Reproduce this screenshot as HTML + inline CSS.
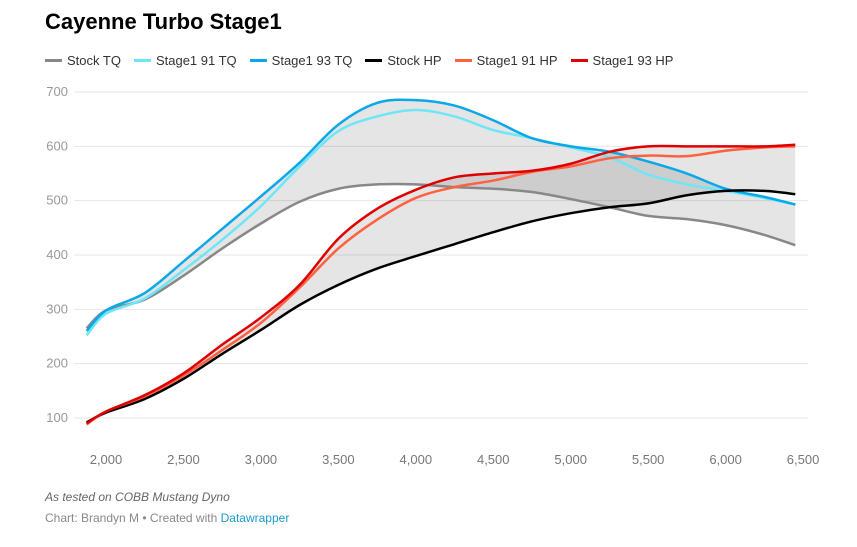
<!DOCTYPE html>
<html><head><meta charset="utf-8"><style>
body{margin:0;background:#fff;font-family:"Liberation Sans",sans-serif;}
#wrap{position:relative;width:857px;height:547px;overflow:hidden;}
h1{position:absolute;left:45px;top:9px;margin:0;font-size:22px;font-weight:bold;color:#000;}
#legend{position:absolute;left:45px;top:53px;font-size:13px;color:#333;display:flex;}
.le{display:flex;align-items:center;margin-right:13px;}
.sw{width:17px;height:3px;margin-right:5px;}
.note{position:absolute;left:45px;font-size:12px;color:#666;}
</style></head><body><div id="wrap">
<h1>Cayenne Turbo Stage1</h1>
<div id="legend">
<div class="le"><span class="sw" style="background:#888"></span>Stock TQ</div>
<div class="le"><span class="sw" style="background:#6ee6f8"></span>Stage1 91 TQ</div>
<div class="le"><span class="sw" style="background:#0aa8e8"></span>Stage1 93 TQ</div>
<div class="le"><span class="sw" style="background:#000"></span>Stock HP</div>
<div class="le"><span class="sw" style="background:#ff6040"></span>Stage1 91 HP</div>
<div class="le"><span class="sw" style="background:#e00000"></span>Stage1 93 HP</div>
</div>
<svg id="svg" width="857" height="547" style="position:absolute;left:0;top:0"></svg>
<div class="note" style="top:490px;font-style:italic">As tested on COBB Mustang Dyno</div>
<div class="note" style="top:511px;color:#888">Chart: Brandyn M • Created with <span style="color:#1d9bd1">Datawrapper</span></div>
</div>
<script>
const rpm=[1875,2000,2250,2500,2750,3000,3250,3500,3750,4000,4250,4500,4750,5000,5250,5500,5750,6000,6250,6450];
const stockTQ=[265,298,318,362,412,458,498,522,530,530,525,522,516,503,488,472,466,455,437,418];
const s91TQ=[252,292,320,372,428,490,563,628,655,667,655,630,615,598,580,548,530,518,505,493];
const s93TQ=[260,298,330,388,448,508,570,640,680,685,675,648,615,600,590,572,550,522,507,493];
const stockHP=[92,110,135,172,218,262,308,345,375,398,420,442,462,477,488,495,510,518,518,512];
const s91HP=[88,112,140,178,225,275,340,412,465,505,525,537,553,563,578,583,582,592,598,600];
const s93HP=[90,112,142,182,235,285,345,430,485,520,543,550,555,568,590,600,600,600,600,603];
const yTicks=[100,200,300,400,500,600,700];
const xTicks=[2000,2500,3000,3500,4000,4500,5000,5500,6000,6500];
const NS="http://www.w3.org/2000/svg";
const svg=document.getElementById('svg');
const X=r=>106+(r-2000)*0.1549;
const Y=v=>418-(v-100)*0.5433;
function mk(t,a){const e=document.createElementNS(NS,t);for(const k in a)e.setAttribute(k,a[k]);svg.appendChild(e);return e;}
function pts(arr){return rpm.map((r,i)=>[X(r),Y(arr[i])]);}
function curve(p){let d='';for(let i=0;i<p.length-1;i++){const p0=p[i-1]||p[i],p1=p[i],p2=p[i+1],p3=p[i+2]||p2;
const c1=[p1[0]+(p2[0]-p0[0])/6,p1[1]+(p2[1]-p0[1])/6],c2=[p2[0]-(p3[0]-p1[0])/6,p2[1]-(p3[1]-p1[1])/6];
d+=`C${c1[0]},${c1[1]} ${c2[0]},${c2[1]} ${p2[0]},${p2[1]}`;}return d;}
function line(p){return `M${p[0][0]},${p[0][1]}`+curve(p);}
yTicks.forEach(v=>{const g=mk('line',{x1:74,x2:808,y1:Y(v),y2:Y(v),stroke:'#e6e6e6','stroke-width':1});

const t=mk('text',{x:68,y:Y(v)+4,'text-anchor':'end','font-size':13,fill:'#999','font-family':'Liberation Sans'});t.textContent=v;
});
xTicks.forEach(v=>{const t=mk('text',{x:X(v),y:464,'text-anchor':'middle','font-size':13,fill:'#777','font-family':'Liberation Sans'});t.textContent=v.toLocaleString('en-US');
});
function area(a,b,name){const pa=pts(a),pb=pts(b).reverse();
const d=line(pa)+`L${pb[0][0]},${pb[0][1]}`+curve(pb)+'Z';
const e=mk('path',{d:d,fill:'rgba(0,0,0,0.1)'});}
area(stockTQ,s93TQ,'tq-gain-area');area(stockHP,s93HP,'hp-gain-area');
[[stockTQ,'#888','stock-tq-line'],[s91TQ,'#6ee6f8','stage1-91-tq-line'],[s93TQ,'#0aa8e8','stage1-93-tq-line'],
 [stockHP,'#000','stock-hp-line'],[s91HP,'#ff6040','stage1-91-hp-line'],[s93HP,'#e00000','stage1-93-hp-line']].forEach(s=>{
const e=mk('path',{d:line(pts(s[0])),fill:'none',stroke:s[1],'stroke-width':2.5,'stroke-linejoin':'round'});
});
</script></body></html>
